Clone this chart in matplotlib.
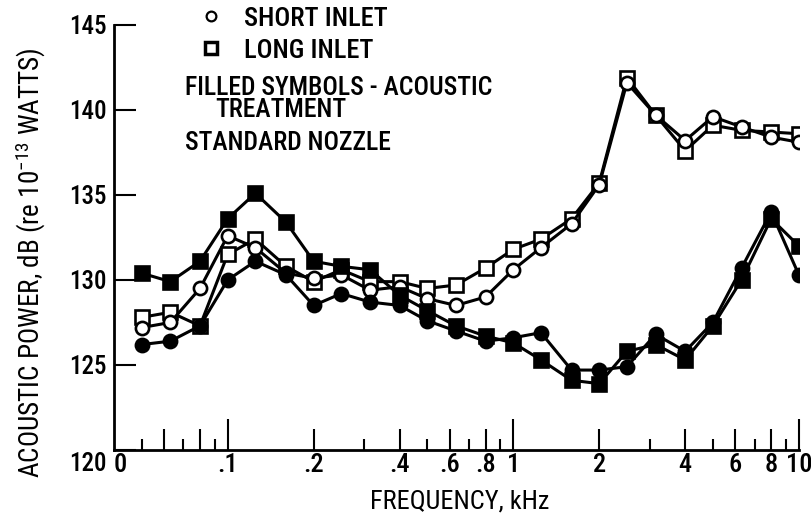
import numpy as np
import matplotlib.pyplot as plt
import matplotlib.transforms as mtransforms
from matplotlib import font_manager
from matplotlib.lines import Line2D

# pick a narrow lettering font if one is around
fonts = font_manager.fontManager.ttflist
names = {f.name for f in fonts}
font, stretch = "DejaVu Sans", "normal"
for cand in ["Liberation Sans Narrow", "Roboto Condensed", "Open Sans Condensed",
             "DejaVu Sans Condensed", "Noto Sans Condensed"]:
    if cand in names:
        font = cand
        break
else:
    for fam in ["DejaVu Sans", "Noto Sans", "Open Sans", "Roboto"]:
        if any(f.name == fam and str(f.stretch) in ("condensed", "semi-condensed", "extra-condensed")
               for f in fonts):
            font, stretch = fam, "condensed"
            break
plt.rcParams["font.family"] = [font, "DejaVu Sans"]
plt.rcParams["font.stretch"] = stretch
plt.rcParams["font.weight"] = "medium"
plt.rcParams["mathtext.default"] = "regular"
narrow = font != "DejaVu Sans" or stretch == "condensed"
k = 1.0 if narrow else 0.82

# 1/3-octave band centre frequencies, kHz
freq = [0.05, 0.063, 0.08, 0.1, 0.125, 0.16, 0.2, 0.25, 0.315, 0.4, 0.5, 0.63,
        0.8, 1.0, 1.25, 1.6, 2.0, 2.5, 3.15, 4.0, 5.0, 6.3, 8.0, 10.0]

# acoustic power, dB re 1e-13 W
short_inlet = [127.2, 127.5, 129.5, 132.6, 131.9, 130.4, 130.1, 130.3, 129.4, 129.6, 128.9, 128.5,
               129.0, 130.6, 131.9, 133.3, 135.6, 141.6, 139.7, 138.2, 139.6, 139.0, 138.4, 138.1]
long_inlet = [127.8, 128.1, 127.3, 131.5, 132.4, 130.8, 129.9, 130.6, 129.9, 129.9, 129.5, 129.7,
              130.7, 131.8, 132.4, 133.6, 135.7, 141.9, 139.7, 137.6, 139.1, 138.8, 138.7, 138.6]
short_treated = [126.2, 126.4, 127.3, 130.0, 131.1, 130.3, 128.5, 129.2, 128.7, 128.5, 127.6, 127.0,
                 126.4, 126.6, 126.9, 124.7, 124.7, 124.9, 126.8, 125.8, 127.5, 130.7, 134.0, 130.3]
long_treated = [130.4, 129.9, 131.1, 133.6, 135.1, 133.4, 131.1, 130.8, 130.6, 129.1, 128.2, 127.3,
                126.7, 126.3, 125.3, 124.1, 123.9, 125.8, 126.2, 125.3, 127.3, 130.0, 133.6, 132.0]

major_ticks = [0.04, 0.06, 0.08, 0.1, 0.2, 0.4, 0.6, 0.8, 1, 2, 4, 6, 8, 10]
major_labels = ["0", "", "", ".1", ".2", ".4", ".6", ".8", "1", "2", "4", "6", "8", "10"]
minor_ticks = [0.05, 0.07, 0.09, 0.3, 0.5, 0.7, 0.9, 3, 5, 7, 9]

fig, ax = plt.subplots(figsize=(8.11, 5.19), dpi=100)
fig.subplots_adjust(left=0.1406, right=0.985, bottom=0.133, top=0.952)

ms = 9.5
lw = 2.2
mew = 1.9
ax.plot(freq, long_inlet, "-s", color="black", lw=lw, ms=ms, mew=mew, mfc="white", zorder=3)
ax.plot(freq, short_inlet, "-o", color="black", lw=lw, ms=ms, mew=mew, mfc="white", zorder=3)
ax.plot(freq, long_treated, "-s", color="black", lw=lw, ms=ms, mew=mew, mfc="black", zorder=4)
ax.plot(freq, short_treated, "-o", color="black", lw=lw, ms=ms, mew=mew, mfc="black", zorder=4)

ax.set_xscale("log")
ax.set_xlim(0.04, 10)
ax.set_ylim(120, 145)

ax.set_xticks(major_ticks)
ax.set_xticklabels(major_labels)
ax.set_xticks(minor_ticks, minor=True)
ax.xaxis.set_minor_formatter(plt.NullFormatter())
ax.tick_params(axis="x", which="both", direction="in", width=1.5, labelsize=19 * k, pad=2)
ax.tick_params(axis="x", which="major", length=15)
ax.tick_params(axis="x", which="minor", length=8)
for t, v in zip(ax.xaxis.get_major_ticks(), major_ticks):
    if v in (0.1, 1, 10):
        t.tick1line.set_markersize(22)
    elif v == 0.04:
        t.tick1line.set_markersize(0)
        t.label1.set_horizontalalignment("left")

ax.set_yticks([120, 125, 130, 135, 140, 145])
ax.tick_params(axis="y", direction="in", length=16, width=1.5, labelsize=18 * k, pad=5)
# the 120 label sits a little below the axis line in the original
lab120 = ax.yaxis.get_major_ticks()[0].label1
lab120.set_transform(lab120.get_transform()
                     + mtransforms.ScaledTranslation(0, -8 / 72, fig.dpi_scale_trans))

for s in ["top", "right"]:
    ax.spines[s].set_visible(False)
for s in ["left", "bottom"]:
    ax.spines[s].set_linewidth(2)

ax.set_xlabel("FREQUENCY, kHz", fontsize=19 * k)
ax.xaxis.set_label_coords(0.505, -0.094)
ax.set_ylabel("ACOUSTIC POWER, dB (re 10$^{-13}$ WATTS)", fontsize=19.5 * k)
ax.yaxis.set_label_coords(-0.097, 0.44)

handles = [
    Line2D([], [], ls="none", marker="o", ms=7, mfc="white", mec="black", mew=1.6),
    Line2D([], [], ls="none", marker="s", ms=8, mfc="white", mec="black", mew=2.5),
]
ax.legend(handles, ["SHORT INLET", "LONG INLET"], loc="upper left",
          bbox_to_anchor=(0.1255, 1.043), frameon=False, fontsize=19 * k,
          handlelength=0.8, handletextpad=0.85, labelspacing=0.3,
          borderpad=0, borderaxespad=0)

ax.text(0.104, 0.852, "FILLED SYMBOLS - ACOUSTIC", transform=ax.transAxes,
        fontsize=18.5 * k, va="center")
ax.text(0.1474, 0.80, "TREATMENT", transform=ax.transAxes, fontsize=18.5 * k, va="center")
ax.text(0.104, 0.722, "STANDARD NOZZLE", transform=ax.transAxes, fontsize=18.5 * k, va="center")

fig.savefig("out.png", dpi=100)
